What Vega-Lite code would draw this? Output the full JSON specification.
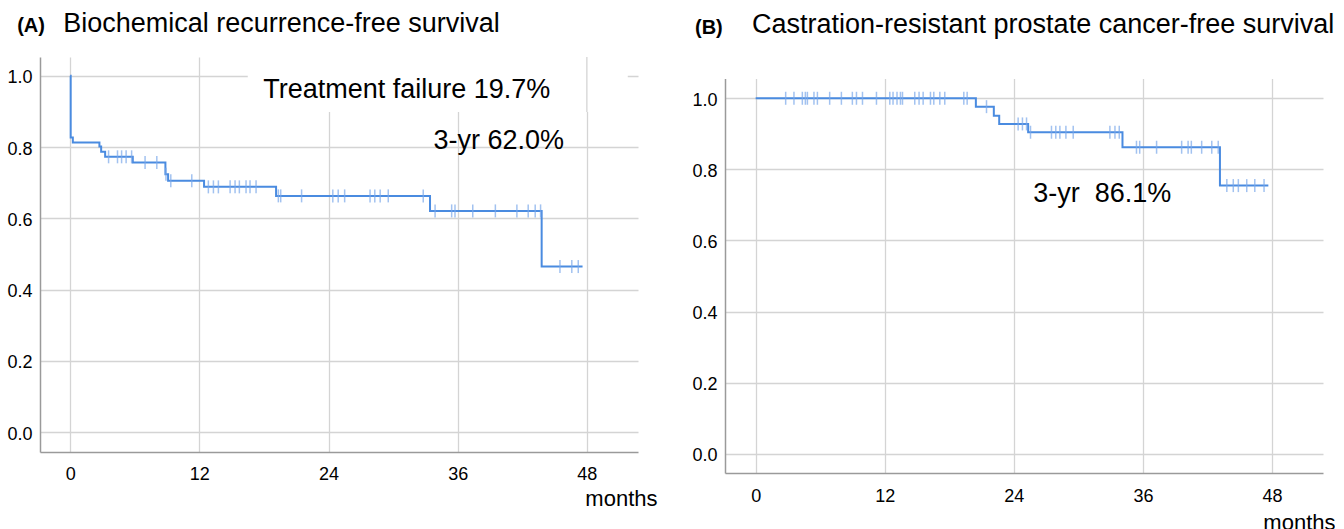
{
  "$schema": "https://vega.github.io/schema/vega-lite/v6.json",
  "padding": {"left": 6, "top": 9, "right": 0, "bottom": 0},
  "background": "white",
  "spacing": 34,
  "config": {
    "view": {"stroke": null},
    "font": "Liberation Sans",
    "axis": {
      "labelFont": "Liberation Sans",
      "labelFontSize": 18,
      "labelColor": "#000000",
      "ticks": false,
      "grid": true,
      "gridColor": "#d4d4d4",
      "gridWidth": 1.3,
      "domainColor": "#9a9a9a",
      "domainWidth": 1.5,
      "titleFont": "Liberation Sans",
      "titleFontWeight": "normal",
      "titleColor": "#000000"
    }
  },
  "datasets": {
    "curveA": [
      {"t": 0, "s": 1.0}, {"t": 0.05, "s": 0.827}, {"t": 0.25, "s": 0.8129},
      {"t": 2.72, "s": 0.8017}, {"t": 2.88, "s": 0.7865}, {"t": 3.25, "s": 0.7725},
      {"t": 5.82, "s": 0.7567}, {"t": 8.85, "s": 0.7239}, {"t": 9.1, "s": 0.7051},
      {"t": 12.44, "s": 0.6882}, {"t": 19.13, "s": 0.6629}, {"t": 33.43, "s": 0.6208},
      {"t": 43.8, "s": 0.4646}, {"t": 47.6, "s": 0.4646}
    ],
    "censA": [
      {"t": 3.57, "s": 0.7725}, {"t": 4.4, "s": 0.7725}, {"t": 4.78, "s": 0.7725}, {"t": 5.2, "s": 0.7725}, {"t": 5.71, "s": 0.7725},
      {"t": 6.96, "s": 0.7567}, {"t": 8.05, "s": 0.7567},
      {"t": 8.9, "s": 0.7239},
      {"t": 9.35, "s": 0.7051}, {"t": 11.3, "s": 0.7051},
      {"t": 12.84, "s": 0.6882}, {"t": 13.31, "s": 0.6882}, {"t": 13.77, "s": 0.6882}, {"t": 14.86, "s": 0.6882}, {"t": 15.32, "s": 0.6882},
      {"t": 15.72, "s": 0.6882}, {"t": 16.34, "s": 0.6882}, {"t": 16.71, "s": 0.6882}, {"t": 17.27, "s": 0.6882},
      {"t": 19.34, "s": 0.6629}, {"t": 19.56, "s": 0.6629}, {"t": 21.5, "s": 0.6629}, {"t": 24.4, "s": 0.6629}, {"t": 24.9, "s": 0.6629},
      {"t": 25.5, "s": 0.6629}, {"t": 27.86, "s": 0.6629}, {"t": 28.3, "s": 0.6629}, {"t": 28.8, "s": 0.6629}, {"t": 29.55, "s": 0.6629}, {"t": 32.8, "s": 0.6629},
      {"t": 33.9, "s": 0.6208}, {"t": 35.44, "s": 0.6208}, {"t": 35.75, "s": 0.6208}, {"t": 37.4, "s": 0.6208}, {"t": 39.5, "s": 0.6208},
      {"t": 41.5, "s": 0.6208}, {"t": 42.55, "s": 0.6208}, {"t": 43.2, "s": 0.6208}, {"t": 43.7, "s": 0.6208},
      {"t": 45.5, "s": 0.4646}, {"t": 46.6, "s": 0.4646}, {"t": 47.2, "s": 0.4646}
    ],
    "textA": [
      {"t": 17.93, "s": 0.9365, "label": "Treatment failure 19.7%"},
      {"t": 33.75, "s": 0.794, "label": "3-yr 62.0%"},
      {"t": -0.65, "s": 1.1228, "label": "Biochemical recurrence-free survival"}
    ],
    "tagA": [{"t": -4.92, "s": 1.1228, "label": "(A)"}],
    "boxA": [{"t": 16.5, "t2": 51.8, "s": 0.898, "s2": 1.0525}],
    "ruleA": [{"t": 48, "s": 0.898, "s2": 1.0525}],
    "curveB": [
      {"t": 0, "s": 1.0}, {"t": 20.47, "s": 0.9764}, {"t": 22.14, "s": 0.951},
      {"t": 22.64, "s": 0.9278}, {"t": 25.33, "s": 0.9044}, {"t": 34.1, "s": 0.8622},
      {"t": 43.16, "s": 0.7543}, {"t": 47.66, "s": 0.7543}
    ],
    "censB": [
      {"t": 2.79, "s": 1.0}, {"t": 3.56, "s": 1.0}, {"t": 4.34, "s": 1.0}, {"t": 4.62, "s": 1.0}, {"t": 4.81, "s": 1.0},
      {"t": 5.42, "s": 1.0}, {"t": 5.74, "s": 1.0}, {"t": 6.88, "s": 1.0}, {"t": 7.97, "s": 1.0}, {"t": 8.99, "s": 1.0},
      {"t": 9.37, "s": 1.0}, {"t": 9.93, "s": 1.0}, {"t": 11.23, "s": 1.0}, {"t": 12.47, "s": 1.0}, {"t": 12.77, "s": 1.0},
      {"t": 13.14, "s": 1.0}, {"t": 13.46, "s": 1.0}, {"t": 13.65, "s": 1.0}, {"t": 14.79, "s": 1.0}, {"t": 15.19, "s": 1.0},
      {"t": 15.57, "s": 1.0}, {"t": 16.25, "s": 1.0}, {"t": 16.56, "s": 1.0}, {"t": 17.12, "s": 1.0}, {"t": 17.58, "s": 1.0},
      {"t": 19.35, "s": 1.0}, {"t": 19.66, "s": 1.0},
      {"t": 21.46, "s": 0.9764},
      {"t": 24.4, "s": 0.9278}, {"t": 24.8, "s": 0.9278}, {"t": 25.18, "s": 0.9278},
      {"t": 25.55, "s": 0.9044}, {"t": 27.5, "s": 0.9044}, {"t": 27.9, "s": 0.9044}, {"t": 28.28, "s": 0.9044}, {"t": 28.84, "s": 0.9044},
      {"t": 29.52, "s": 0.9044}, {"t": 32.93, "s": 0.9044}, {"t": 33.4, "s": 0.9044}, {"t": 33.8, "s": 0.9044},
      {"t": 35.4, "s": 0.8622}, {"t": 35.7, "s": 0.8622}, {"t": 37.27, "s": 0.8622}, {"t": 39.6, "s": 0.8622}, {"t": 40.2, "s": 0.8622},
      {"t": 40.5, "s": 0.8622}, {"t": 41.46, "s": 0.8622}, {"t": 42.4, "s": 0.8622}, {"t": 43.0, "s": 0.8622},
      {"t": 43.8, "s": 0.7543}, {"t": 44.4, "s": 0.7543}, {"t": 44.87, "s": 0.7543}, {"t": 45.65, "s": 0.7543}, {"t": 46.4, "s": 0.7543}, {"t": 47.26, "s": 0.7543}
    ],
    "textB": [
      {"t": 25.81, "s": 0.709, "label": "3-yr\u00a0 86.1%"},
      {"t": -0.34, "s": 1.183, "label": "Castration-resistant prostate cancer-free survival"}
    ],
    "tagB": [{"t": -5.64, "s": 1.181, "label": "(B)"}],
    "coverB": [{"t": -3.0, "t2": 52.74, "s": 1.0543, "s2": 1.1161}]
  },
  "hconcat": [
    {
      "width": 598,
      "height": 395,
      "encoding": {
        "x": {"field": "t", "type": "quantitative", "scale": {"domain": [-2.8, 52.75], "nice": false, "zero": false},
          "axis": {"values": [0, 12, 24, 36, 48], "title": "months", "titleX": 617, "titleY": 53, "titleAlign": "right", "titleBaseline": "alphabetic", "titleFontSize": 22, "labelPadding": 13, "labelFlush": false}},
        "y": {"field": "s", "type": "quantitative", "scale": {"domain": [-0.0556, 1.0525], "nice": false, "zero": false},
          "axis": {"values": [0, 0.2, 0.4, 0.6, 0.8, 1.0], "format": ".1f", "title": null, "labelPadding": 8, "labelOffset": 2}}
      },
      "layer": [
        {"data": {"name": "boxA"}, "mark": {"type": "rect", "fill": "white", "stroke": null}, "encoding": {"x2": {"field": "t2"}, "y2": {"field": "s2"}}},
        {"data": {"name": "ruleA"}, "mark": {"type": "rule", "color": "#d4d4d4", "strokeWidth": 1.3}, "encoding": {"y2": {"field": "s2"}}},
        {"data": {"name": "curveA"}, "mark": {"type": "line", "interpolate": "step-after", "color": "#4a8be0", "strokeWidth": 2}, "encoding": {}},
        {"data": {"name": "censA"}, "mark": {"type": "tick", "orient": "vertical", "color": "#7aa8ea", "size": 13, "thickness": 1.5}, "encoding": {}},
        {"data": {"name": "textA"}, "mark": {"type": "text", "align": "left", "baseline": "alphabetic", "font": "Liberation Sans", "fontSize": 27, "color": "#000000"},
          "encoding": {"text": {"field": "label"}}},
        {"data": {"name": "tagA"}, "mark": {"type": "text", "align": "left", "baseline": "alphabetic", "font": "Liberation Sans", "fontSize": 20, "fontWeight": "bold", "color": "#000000"},
          "encoding": {"text": {"field": "label"}}}
      ]
    },
    {
      "width": 598,
      "height": 416,
      "encoding": {
        "x": {"field": "t", "type": "quantitative", "scale": {"domain": [-2.85, 52.74], "nice": false, "zero": false},
          "axis": {"values": [0, 12, 24, 36, 48], "title": "months", "titleX": 610, "titleY": 56, "titleAlign": "right", "titleBaseline": "alphabetic", "titleFontSize": 22, "labelPadding": 14, "labelFlush": false}},
        "y": {"field": "s", "type": "quantitative", "scale": {"domain": [-0.0543, 1.1161], "nice": false, "zero": false},
          "axis": {"values": [0, 0.2, 0.4, 0.6, 0.8, 1.0], "format": ".1f", "title": null, "labelPadding": 8, "labelOffset": 2}}
      },
      "layer": [
        {"data": {"name": "coverB"}, "mark": {"type": "rect", "fill": "white", "stroke": null}, "encoding": {"x2": {"field": "t2"}, "y2": {"field": "s2"}}},
        {"data": {"name": "curveB"}, "mark": {"type": "line", "interpolate": "step-after", "color": "#4a8be0", "strokeWidth": 2}, "encoding": {}},
        {"data": {"name": "censB"}, "mark": {"type": "tick", "orient": "vertical", "color": "#7aa8ea", "size": 13, "thickness": 1.5}, "encoding": {}},
        {"data": {"name": "textB"}, "mark": {"type": "text", "align": "left", "baseline": "alphabetic", "font": "Liberation Sans", "fontSize": 27, "color": "#000000"},
          "encoding": {"text": {"field": "label"}}},
        {"data": {"name": "tagB"}, "mark": {"type": "text", "align": "left", "baseline": "alphabetic", "font": "Liberation Sans", "fontSize": 20, "fontWeight": "bold", "color": "#000000"},
          "encoding": {"text": {"field": "label"}}}
      ]
    }
  ]
}
